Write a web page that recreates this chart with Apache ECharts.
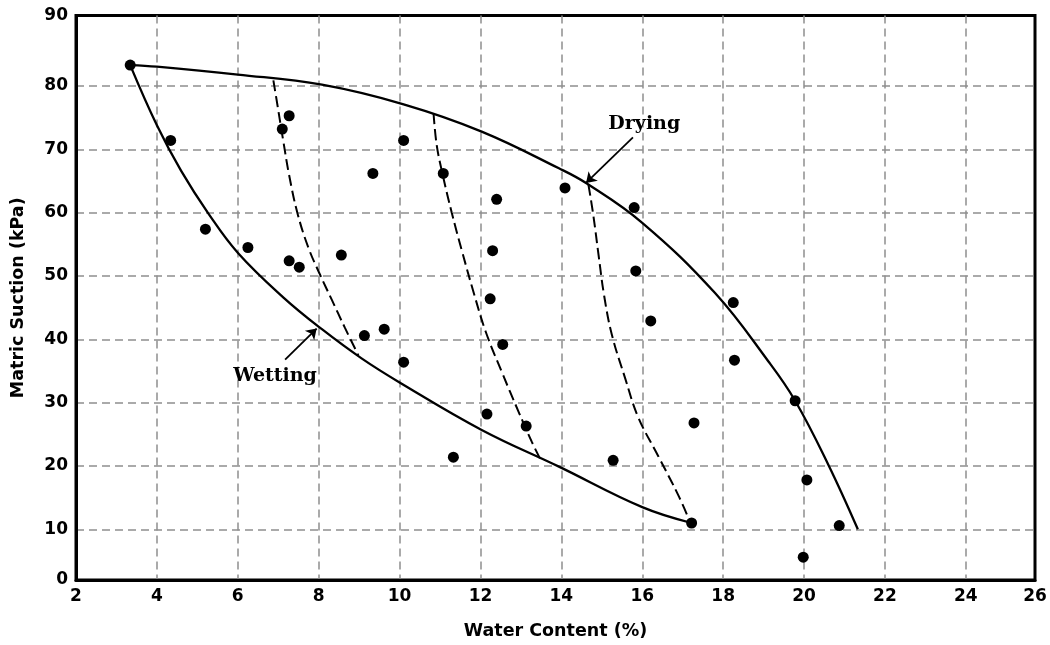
<!DOCTYPE html>
<html><head><meta charset="utf-8">
<script src="https://cdn.jsdelivr.net/npm/echarts@6/dist/echarts.min.js"></script>
<style>html,body{margin:0;padding:0;background:#fff}#c{width:1050px;height:645px}</style>
</head><body><div id="c"></div>
<script>
// Axis ranges (the original frame does not end exactly at its end labels)
const xMin = 2, xMax = 25.71;
const yMin = 2, yMax = 91.13;
const xTickValues = [4, 6, 8, 10, 12, 14, 16, 18, 20, 22, 24];
const xTickLabels = ['2', '4', '6', '8', '10', '12', '14', '16', '18', '20', '22', '24', '26'];
const yTickValues = [10, 20, 30, 40, 50, 60, 70, 80];
const yTickLabels = ['0', '10', '20', '30', '40', '50', '60', '70', '80', '90'];
const xLabelValues = [xMin].concat(xTickValues, [xMax]);
const yLabelValues = [yMin].concat(yTickValues, [yMax]);

// Measured points (water content %, matric suction kPa)
const measured = [
  [3.34, 83.3], [4.34, 71.4], [7.27, 75.3], [7.10, 73.2], [10.1, 71.4], [9.34, 66.2],
  [5.20, 57.4], [6.25, 54.5], [7.27, 52.4], [7.52, 51.4], [8.56, 53.3], [11.08, 66.2],
  [12.40, 62.1], [14.09, 63.9], [15.80, 60.8], [12.30, 54.0], [15.84, 50.8], [12.24, 46.4],
  [16.21, 42.9], [12.55, 39.2], [10.1, 36.4], [12.16, 28.2], [13.13, 26.3], [11.33, 21.4],
  [15.28, 20.9], [17.28, 26.8], [17.22, 11.0], [9.13, 40.6], [9.62, 41.6], [18.25, 45.8],
  [18.28, 36.7], [19.78, 30.3], [20.07, 17.8], [20.87, 10.6], [19.98, 5.6]
];

// Main drying curve
const dryingCurve = [
  [3.34, 83.3], [4.0, 83.05], [6.0, 81.8], [8.08, 80.2], [10.1, 77.1], [12.03, 72.8],
  [13.94, 67.0], [14.63, 64.6], [16.0, 58.4], [17.8, 47.3], [19.12, 36.5], [19.78, 30.3],
  [20.6, 20.2], [21.33, 10.0]
];
// Main wetting curve
const wettingCurve = [
  [3.34, 83.3], [4.0, 73.8], [4.6, 66.6], [5.27, 59.9], [6.01, 53.6], [7.13, 46.6], [8.08, 41.6],
  [9.06, 37.0], [10.0, 33.2], [12.03, 25.7], [13.94, 19.9], [16.0, 13.5], [17.22, 11.0]
];
// Scanning curves (dashed)
const scan1 = [
  [6.88, 80.9], [6.98, 77.0], [7.12, 71.5], [7.27, 65.9], [7.48, 59.8], [7.75, 54.4],
  [8.02, 50.4], [8.32, 46.3], [8.65, 41.8], [8.98, 37.5]
];
const scan2 = [
  [10.84, 75.7], [10.92, 70.6], [11.08, 65.6], [11.29, 60.0], [11.54, 54.0], [11.84, 47.2],
  [12.13, 41.2], [12.53, 34.8], [12.94, 28.6], [13.27, 23.8], [13.47, 21.2]
];
const scan3 = [
  [14.67, 64.4], [14.79, 59.6], [14.92, 53.3], [15.06, 46.8], [15.25, 40.7], [15.58, 33.8],
  [15.9, 27.7], [16.4, 21.5], [16.89, 15.4], [17.18, 11.2]
];

// Annotations
const annotTexts = ['Drying', 'Wetting'];
const annotPos = [[16.05, 74.0], [6.92, 34.2]];
const annotArrows = [
  [[15.77, 71.9], [14.61, 64.7]],
  [[7.17, 36.8], [7.95, 41.7]]
];

function labelFor(values, labels) {
  return function (v) {
    const i = values.findIndex(t => Math.abs(t - v) < 1e-6);
    return i >= 0 ? labels[i] : '';
  };
}

const chart = echarts.init(document.getElementById('c'), null, { renderer: 'canvas' });
const gridLine = { show: true, lineStyle: { color: '#8f8f8f', width: 1.5, type: [8, 5] } };
const solidStyle = { color: '#000', width: 2.3 };
const dashStyle = { color: '#000', width: 2, type: [11, 5] };
const nameFont = { fontFamily: 'DejaVu Sans', fontWeight: 'bold', fontSize: 17.5, color: '#000' };

chart.setOption({
  animation: false,
  backgroundColor: '#fff',
  grid: { left: 76, right: 15, top: 15.5, bottom: 65, show: true, borderColor: '#000', borderWidth: 3, backgroundColor: 'transparent' },
  xAxis: {
    type: 'value', min: xMin, max: xMax,
    name: 'Water Content (%)', nameLocation: 'middle', nameGap: 42,
    nameTextStyle: nameFont,
    axisLine: { show: true, lineStyle: { color: '#000', width: 3 } },
    axisTick: { show: false, customValues: xTickValues },
    axisLabel: { customValues: xLabelValues, formatter: labelFor(xLabelValues, xTickLabels), margin: 8,
      fontFamily: 'DejaVu Sans', fontWeight: 'bold', fontSize: 17, color: '#000' },
    splitLine: gridLine
  },
  yAxis: {
    type: 'value', min: yMin, max: yMax,
    name: 'Matric Suction (kPa)', nameLocation: 'middle', nameGap: 49, nameRotate: 90,
    nameTextStyle: nameFont,
    axisLine: { show: true, lineStyle: { color: '#000', width: 3 } },
    axisTick: { show: false, customValues: yTickValues },
    axisLabel: { customValues: yLabelValues, formatter: labelFor(yLabelValues, yTickLabels), margin: 8,
      fontFamily: 'DejaVu Sans', fontWeight: 'bold', fontSize: 17, color: '#000' },
    splitLine: gridLine
  },
  series: [
    { type: 'line', data: dryingCurve, smooth: 0.4, showSymbol: false, lineStyle: solidStyle, z: 3 },
    { type: 'line', data: wettingCurve, smooth: 0.4, showSymbol: false, lineStyle: solidStyle, z: 3 },
    { type: 'line', data: scan1, smooth: 0.4, showSymbol: false, lineStyle: dashStyle, z: 3 },
    { type: 'line', data: scan2, smooth: 0.4, showSymbol: false, lineStyle: dashStyle, z: 3 },
    { type: 'line', data: scan3, smooth: 0.4, showSymbol: false, lineStyle: dashStyle, z: 3 },
    { type: 'scatter', data: measured, symbol: 'circle', symbolSize: 11, itemStyle: { color: '#000', opacity: 1 }, z: 5 },
    {
      type: 'scatter', z: 6, silent: true,
      data: annotTexts.map((t, i) => ({ name: t, value: annotPos[i] })),
      symbol: 'circle', symbolSize: 0, itemStyle: { opacity: 1 },
      label: { show: true, position: 'inside', formatter: '{b}', fontFamily: 'DejaVu Serif', fontWeight: 'bold', fontSize: 19, color: '#000' },
      markLine: {
        silent: true, symbol: ['none', 'arrow'], symbolSize: 10,
        label: { show: false },
        lineStyle: { color: '#000', width: 1.8, type: 'solid', opacity: 1 },
        data: annotArrows.map(a => [{ coord: a[0] }, { coord: a[1] }])
      }
    }
  ]
});
</script>
</body></html>
